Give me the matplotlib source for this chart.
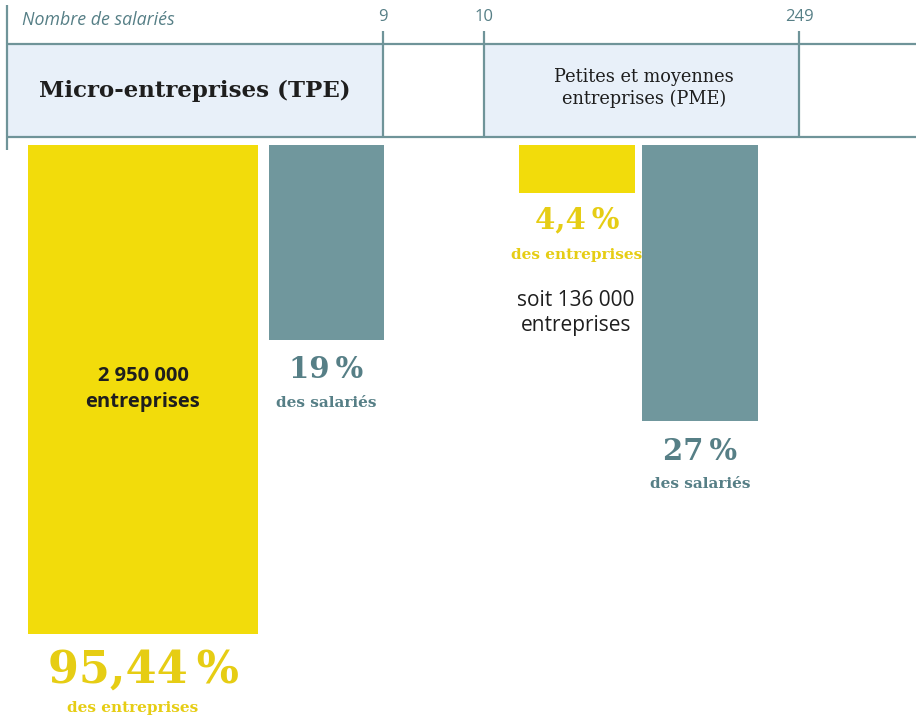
import matplotlib.pyplot as plt

# share of companies / employees, heights of bars (px)
categories = ["TPE", "PME"]
ent_labels = ["95,44\u202f%", "4,4\u202f%"]
ent_heights = [489, 48]
sal_labels = ["19\u202f%", "27\u202f%"]
sal_heights = [195, 276]
tick_values = ["9", "10", "249"]
tick_pos = [383, 484, 799]

yellow = "#f2dc0b"
yellow_txt = "#e6cd14"
grey = "#70979d"
grey_txt = "#567f86"
line_c = "#6f9499"
box_c = "#e8f0f9"

fig = plt.figure(figsize=(9.16, 7.18), dpi=100)
ax = fig.add_axes([0, 0, 1, 1])
ax.set_xlim(0, 916)
ax.set_ylim(718, 0)
ax.axis("off")

top = 145
# header band
ax.fill_between([7, 383], 44, 137, color=box_c, lw=0)
ax.fill_between([484, 799], 44, 137, color=box_c, lw=0)
ax.hlines([44, 137], 7, 916, color=line_c, lw=1.6)
ax.vlines(7, 5, 150, color=line_c, lw=1.6)
for p, t in zip(tick_pos, tick_values):
    ax.vlines(p, 31, 137, color=line_c, lw=1.6)
    ax.text(p, 17, t, ha="center", va="center", fontsize=12, color=grey_txt,
            family="Open Sans")
ax.text(22, 20, "Nombre de salariés", ha="left", va="center", fontsize=12.8,
        style="italic", color=grey_txt, family="Open Sans")
ax.text(195, 91, "Micro-entreprises (TPE)", ha="center", va="center",
        fontsize=16.5, weight="bold", color="#1e1e1e", family="DejaVu Serif")
ax.text(644, 88, "Petites et moyennes\nentreprises (PME)", ha="center",
        va="center", fontsize=12.8, color="#1e1e1e", family="DejaVu Serif",
        linespacing=1.25)

# bars hanging from the band
ent_x = [28, 519]
ent_w = [230, 116]
sal_x = [269, 642]
sal_w = [115, 116]
ax.bar(ent_x, ent_heights, width=ent_w, bottom=top, align="edge", color=yellow)
ax.bar(sal_x, sal_heights, width=sal_w, bottom=top, align="edge", color=grey)

# percentage labels
ent_cx = [x + w / 2 for x, w in zip(ent_x, ent_w)]
sal_cx = [x + w / 2 for x, w in zip(sal_x, sal_w)]
ent_fs = [32, 21]
ent_off = [36, 27]      # big label below bar end
sub_off = [74, 62]      # "des entreprises" below bar end
sub_dx = [-10, 0]
for i, lab in enumerate(ent_labels):
    end = top + ent_heights[i]
    ax.text(ent_cx[i], end + ent_off[i], lab, ha="center", va="center",
            fontsize=ent_fs[i], weight="bold", color=yellow_txt,
            family="DejaVu Serif")
    ax.text(ent_cx[i] + sub_dx[i], end + sub_off[i], "des entreprises",
            ha="center", va="center", fontsize=11, weight="bold",
            color=yellow_txt, family="DejaVu Serif")
for cx, h, lab in zip(sal_cx, sal_heights, sal_labels):
    end = top + h
    ax.text(cx, end + 30, lab, ha="center", va="center", fontsize=21,
            weight="bold", color=grey_txt, family="DejaVu Serif")
    ax.text(cx, end + 63, "des salariés", ha="center", va="center",
            fontsize=11, weight="bold", color=grey_txt, family="DejaVu Serif")

ax.text(ent_cx[0], 389, "2 950 000\nentreprises", ha="center",
        va="center", fontsize=14.5, weight="bold", color="#1e1e1e",
        family="Open Sans", linespacing=1.35)
ax.text(ent_cx[1] - 1, 313, "soit 136 000\nentreprises", ha="center",
        va="center", fontsize=15, color="#1e1e1e", family="Open Sans",
        linespacing=1.3)

fig.savefig("out.png", dpi=100)
